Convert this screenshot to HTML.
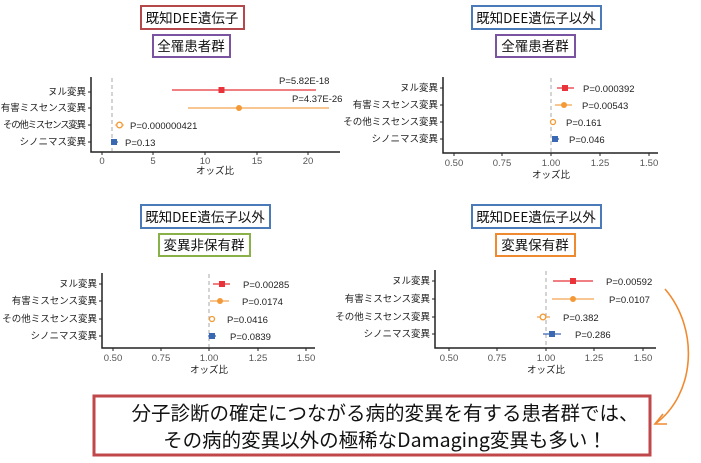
<!DOCTYPE html>
<html><head><meta charset="utf-8"><style>
html,body{margin:0;padding:0;background:#fff;}
svg{display:block;font-family:"Liberation Sans","Noto Sans CJK JP",sans-serif;}
.yl{font-size:9.5px;fill:#222;text-anchor:end;}
.tk{font-size:9.5px;fill:#555;text-anchor:middle;}
.pl{font-size:9.5px;fill:#222;}
.xl{font-size:9.5px;fill:#222;text-anchor:middle;}
.tt{font-size:13.5px;fill:#111;text-anchor:middle;font-family:"Noto Sans CJK JP",sans-serif;}
</style></head><body>
<svg width="701" height="463" viewBox="0 0 701 463" xmlns="http://www.w3.org/2000/svg">
<rect width="701" height="463" fill="#fff"/>
<!-- Panel 1 -->
<rect x="141" y="6" width="103" height="23" fill="#fff" stroke="#b5484a" stroke-width="2"/>
<text class="tt" x="192" y="23">既知DEE遺伝子</text>
<rect x="153" y="35" width="77" height="22" fill="#fff" stroke="#7a54a0" stroke-width="2"/>
<text class="tt" x="191" y="51">全罹患者群</text>
<line x1="112" y1="78" x2="112" y2="151" stroke="#aaa" stroke-dasharray="4,3"/>
<path d="M91,77V152H340" fill="none" stroke="#222" stroke-width="1.5"/>
<g stroke="#222"><line x1="88" y1="92" x2="91" y2="92"/><line x1="88" y1="108" x2="91" y2="108"/><line x1="88" y1="125" x2="91" y2="125"/><line x1="88" y1="142" x2="91" y2="142"/>
<line x1="102" y1="152" x2="102" y2="155"/><line x1="153" y1="152" x2="153" y2="155"/><line x1="205" y1="152" x2="205" y2="155"/><line x1="257" y1="152" x2="257" y2="155"/><line x1="308" y1="152" x2="308" y2="155"/></g>
<text class="yl" x="86" y="95">ヌル変異</text><text class="yl" x="86" y="111">有害ミスセンス変異</text><text class="yl" x="86" y="128" textLength="83">その他ミスセンス変異</text><text class="yl" x="86" y="145">シノニマス変異</text>
<text class="tk" x="102" y="164">0</text><text class="tk" x="153" y="164">5</text><text class="tk" x="205" y="164">10</text><text class="tk" x="257" y="164">15</text><text class="tk" x="308" y="164">20</text>
<text class="xl" x="215" y="174">オッズ比</text>
<line x1="172" y1="90" x2="316" y2="90" stroke="#e8333a" stroke-width="1.3"/><rect x="218.5" y="87" width="6" height="6" fill="#e8333a"/>
<line x1="188" y1="108" x2="329" y2="108" stroke="#f2a552" stroke-width="1.3"/><circle cx="239" cy="108" r="3" fill="#f39a36"/>
<line x1="115" y1="125" x2="124" y2="125" stroke="#f2a552"/><circle cx="119.5" cy="125" r="2.8" fill="#fff" stroke="#f39a36" stroke-width="1.3"/>
<line x1="111" y1="142" x2="118" y2="142" stroke="#3a68b3" stroke-width="1.3"/><rect x="111" y="139" width="6" height="6" fill="#3a68b3"/>
<text class="pl" x="279" y="84">P=5.82E-18</text><text class="pl" x="292" y="102">P=4.37E-26</text><text class="pl" x="130" y="129">P=0.000000421</text><text class="pl" x="125" y="146">P=0.13</text>
<!-- Panel 2 -->
<rect x="472" y="6" width="129" height="23" fill="#fff" stroke="#4a7ab8" stroke-width="2"/>
<text class="tt" x="536" y="23">既知DEE遺伝子以外</text>
<rect x="496" y="35" width="79" height="22" fill="#fff" stroke="#7a54a0" stroke-width="2"/>
<text class="tt" x="535" y="51">全罹患者群</text>
<line x1="551" y1="78" x2="551" y2="152" stroke="#aaa" stroke-dasharray="4,3"/>
<path d="M443,77V153H658" fill="none" stroke="#222" stroke-width="1.5"/>
<g stroke="#222"><line x1="440" y1="88" x2="443" y2="88"/><line x1="440" y1="105" x2="443" y2="105"/><line x1="440" y1="122" x2="443" y2="122"/><line x1="440" y1="139" x2="443" y2="139"/>
<line x1="454" y1="153" x2="454" y2="156"/><line x1="502" y1="153" x2="502" y2="156"/><line x1="551" y1="153" x2="551" y2="156"/><line x1="600" y1="153" x2="600" y2="156"/><line x1="649" y1="153" x2="649" y2="156"/></g>
<text class="yl" x="438" y="91">ヌル変異</text><text class="yl" x="438" y="108">有害ミスセンス変異</text><text class="yl" x="438" y="125">その他ミスセンス変異</text><text class="yl" x="438" y="142">シノニマス変異</text>
<text class="tk" x="454" y="166">0.50</text><text class="tk" x="502" y="166">0.75</text><text class="tk" x="551" y="166">1.00</text><text class="tk" x="600" y="166">1.25</text><text class="tk" x="649" y="166">1.50</text>
<text class="xl" x="551" y="178">オッズ比</text>
<line x1="557" y1="88" x2="574" y2="88" stroke="#e8333a" stroke-width="1.3"/><rect x="562" y="85" width="6" height="6" fill="#e8333a"/>
<line x1="555" y1="105" x2="572" y2="105" stroke="#f2a552" stroke-width="1.3"/><circle cx="564" cy="105" r="3" fill="#f39a36"/>
<circle cx="553" cy="122" r="2.5" fill="#fff" stroke="#f39a36" stroke-width="1.3"/>
<line x1="552" y1="139" x2="559" y2="139" stroke="#3a68b3" stroke-width="1.3"/><rect x="552" y="136" width="6" height="6" fill="#3a68b3"/>
<text class="pl" x="583" y="92">P=0.000392</text><text class="pl" x="582" y="109">P=0.00543</text><text class="pl" x="566" y="126">P=0.161</text><text class="pl" x="569" y="143">P=0.046</text>
<!-- Panel 3 -->
<rect x="141" y="205" width="129" height="23" fill="#fff" stroke="#4a7ab8" stroke-width="2"/>
<text class="tt" x="205" y="222">既知DEE遺伝子以外</text>
<rect x="159" y="234" width="91" height="22" fill="#fff" stroke="#8ab04a" stroke-width="2"/>
<text class="tt" x="204" y="250">変異非保有群</text>
<line x1="209" y1="274" x2="209" y2="347" stroke="#aaa" stroke-dasharray="4,3"/>
<path d="M102,273V348H315" fill="none" stroke="#222" stroke-width="1.5"/>
<g stroke="#222"><line x1="99" y1="284" x2="102" y2="284"/><line x1="99" y1="301" x2="102" y2="301"/><line x1="99" y1="319" x2="102" y2="319"/><line x1="99" y1="336" x2="102" y2="336"/>
<line x1="113" y1="348" x2="113" y2="351"/><line x1="161" y1="348" x2="161" y2="351"/><line x1="209" y1="348" x2="209" y2="351"/><line x1="258" y1="348" x2="258" y2="351"/><line x1="306" y1="348" x2="306" y2="351"/></g>
<text class="yl" x="97" y="287">ヌル変異</text><text class="yl" x="97" y="304">有害ミスセンス変異</text><text class="yl" x="97" y="322">その他ミスセンス変異</text><text class="yl" x="97" y="339">シノニマス変異</text>
<text class="tk" x="113" y="361">0.50</text><text class="tk" x="161" y="361">0.75</text><text class="tk" x="209" y="361">1.00</text><text class="tk" x="258" y="361">1.25</text><text class="tk" x="306" y="361">1.50</text>
<text class="xl" x="209" y="373">オッズ比</text>
<line x1="213" y1="284" x2="230" y2="284" stroke="#e8333a" stroke-width="1.3"/><rect x="219" y="281" width="6" height="6" fill="#e8333a"/>
<line x1="210" y1="301" x2="229" y2="301" stroke="#f2a552" stroke-width="1.3"/><circle cx="220" cy="301" r="3" fill="#f39a36"/>
<circle cx="212" cy="319" r="2.5" fill="#fff" stroke="#f39a36" stroke-width="1.3"/>
<line x1="208" y1="336" x2="216" y2="336" stroke="#3a68b3" stroke-width="1.3"/><rect x="209" y="333" width="6" height="6" fill="#3a68b3"/>
<text class="pl" x="243" y="288">P=0.00285</text><text class="pl" x="242" y="305">P=0.0174</text><text class="pl" x="227" y="323">P=0.0416</text><text class="pl" x="230" y="340">P=0.0839</text>
<!-- Panel 4 -->
<rect x="472" y="205" width="129" height="23" fill="#fff" stroke="#4a7ab8" stroke-width="2"/>
<text class="tt" x="536" y="222">既知DEE遺伝子以外</text>
<rect x="496" y="234" width="79" height="22" fill="#fff" stroke="#f08a30" stroke-width="2"/>
<text class="tt" x="535" y="250">変異保有群</text>
<line x1="546" y1="271" x2="546" y2="347" stroke="#aaa" stroke-dasharray="4,3"/>
<path d="M435,270V348H656" fill="none" stroke="#222" stroke-width="1.5"/>
<g stroke="#222"><line x1="432" y1="281" x2="435" y2="281"/><line x1="432" y1="299" x2="435" y2="299"/><line x1="432" y1="317" x2="435" y2="317"/><line x1="432" y1="334" x2="435" y2="334"/>
<line x1="449" y1="348" x2="449" y2="351"/><line x1="497" y1="348" x2="497" y2="351"/><line x1="546" y1="348" x2="546" y2="351"/><line x1="594" y1="348" x2="594" y2="351"/><line x1="643" y1="348" x2="643" y2="351"/></g>
<text class="yl" x="430" y="284">ヌル変異</text><text class="yl" x="430" y="302">有害ミスセンス変異</text><text class="yl" x="430" y="320">その他ミスセンス変異</text><text class="yl" x="430" y="337">シノニマス変異</text>
<text class="tk" x="449" y="361">0.50</text><text class="tk" x="497" y="361">0.75</text><text class="tk" x="546" y="361">1.00</text><text class="tk" x="594" y="361">1.25</text><text class="tk" x="643" y="361">1.50</text>
<text class="xl" x="546" y="373">オッズ比</text>
<line x1="553" y1="281" x2="593" y2="281" stroke="#e8333a" stroke-width="1.3"/><rect x="570" y="278" width="6" height="6" fill="#e8333a"/>
<line x1="552" y1="299" x2="594" y2="299" stroke="#f2a552" stroke-width="1.3"/><circle cx="573" cy="299" r="3" fill="#f39a36"/>
<line x1="537" y1="317" x2="550" y2="317" stroke="#f2a552" stroke-width="1.3"/><circle cx="543" cy="317" r="2.8" fill="#fff" stroke="#f39a36" stroke-width="1.3"/>
<line x1="543" y1="334" x2="561" y2="334" stroke="#3a68b3" stroke-width="1.3"/><rect x="549" y="331" width="6" height="6" fill="#3a68b3"/>
<text class="pl" x="606" y="285">P=0.00592</text><text class="pl" x="609" y="303">P=0.0107</text><text class="pl" x="563" y="321">P=0.382</text><text class="pl" x="575" y="338">P=0.286</text>
<!-- Arrow -->
<path d="M665,289 C700,330 695,395 655,424" fill="none" stroke="#f08a30" stroke-width="1.6"/>
<path d="M663,414 L655,424 L667,424" fill="none" stroke="#f08a30" stroke-width="1.6"/>
<!-- Bottom box -->
<rect x="94" y="396" width="556" height="59" fill="#fff" stroke="#c0474a" stroke-width="3"/>
<text x="385" y="420" font-size="19.5" fill="#111" text-anchor="middle" style="font-family:'Noto Sans CJK JP',sans-serif">分子診断の確定につながる病的変異を有する患者群では、</text>
<text x="385" y="447" font-size="19.5" fill="#111" text-anchor="middle" style="font-family:'Noto Sans CJK JP',sans-serif">その病的変異以外の極稀なDamaging変異も多い！</text>
</svg>
</body></html>
